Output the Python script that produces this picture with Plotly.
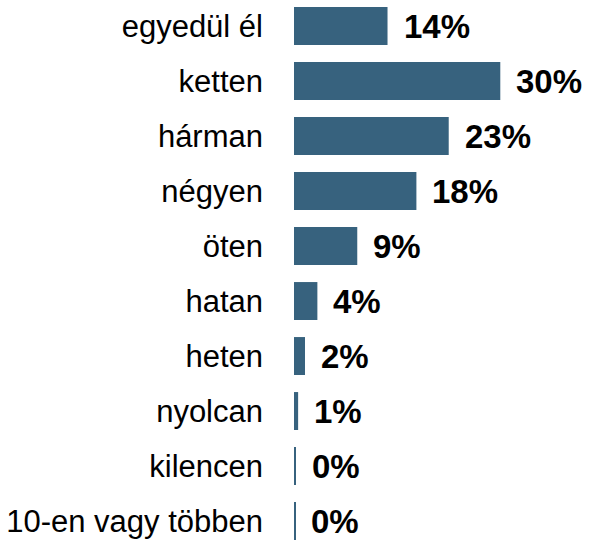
import plotly.graph_objects as go

categories = ["egyedül él", "ketten", "hárman", "négyen", "öten", "hatan",
              "heten", "nyolcan", "kilencen", "10-en vagy többen"]
values = [13.6, 30.0, 22.5, 17.8, 9.2, 3.4, 1.6, 0.6, 0.25, 0.15]
labels = ["14%", "30%", "23%", "18%", "9%", "4%", "2%", "1%", "0%", "0%"]

FONT = "Liberation Sans Narrow, Arial Narrow, Liberation Sans, Arial, sans-serif"
BAR_COLOR = "#37627e"

fig = go.Figure()
fig.add_trace(go.Bar(
    x=values, y=categories, orientation="h",
    marker=dict(color=BAR_COLOR, line=dict(width=0)),
    width=0.69, hoverinfo="skip",
))

for v, c, t in zip(values, categories, labels):
    fig.add_annotation(x=v, y=c, text="<b>" + t + "</b>", showarrow=False,
                       xanchor="left", yanchor="middle", xshift=14,
                       font=dict(family=FONT, size=33, color="black"))

fig.update_layout(
    width=589, height=546,
    margin=dict(l=294, r=0, t=0, b=0),
    paper_bgcolor="white", plot_bgcolor="white",
    showlegend=False,
    font=dict(family=FONT, color="black"),
    xaxis=dict(range=[0, 42.9], visible=False, showgrid=False, zeroline=False),
    yaxis=dict(range=[9.454, -0.473], showgrid=False, zeroline=False,
               showline=False, ticks="", ticklabelstandoff=30,
               tickfont=dict(family=FONT, size=31, color="black"),
               automargin=False),
)

fig.write_html("out.html",
               config={"displayModeBar": False},
               post_script="document.body.style.margin='0';document.body.style.padding='0';")
